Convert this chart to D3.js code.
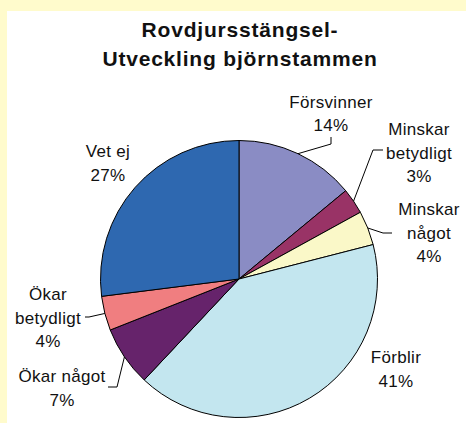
<!DOCTYPE html>
<html>
<head>
<meta charset="utf-8">
<script src="https://cdn.jsdelivr.net/npm/d3@7"></script>
<style>
  body { margin: 0; background: #FFFBCC; }
  svg { display: block; }
  text { font-family: "Liberation Sans", Arial, sans-serif; fill: #111; }
</style>
</head>
<body>
<div id="chart"></div>
<script>
// data, clockwise from 12 o'clock
const categories = ["Försvinner", "Minskar betydligt", "Minskar något", "Förblir", "Ökar något", "Ökar betydligt", "Vet ej"];
const values = [14, 3, 4, 41, 7, 4, 27];
const labelLines = [
  ["Försvinner", "14%"],
  ["Minskar", "betydligt", "3%"],
  ["Minskar", "något", "4%"],
  ["Förblir", "41%"],
  ["Ökar något", "7%"],
  ["Ökar", "betydligt", "4%"],
  ["Vet ej", "27%"]
];
const titleLines = ["Rovdjursstängsel-", "Utveckling björnstammen"];

const colors = ["#8A8CC4", "#993366", "#FAF8C8", "#C3E6EF", "#66236B", "#F07E80", "#2E68B0"];

const width = 466, height = 423;
const cx = 239, cy = 279, r = 138.5;

// label anchor (center x, first baseline) relative to pie center, and leader elbows
const labelPos = [
  { x: 92, y: -171.5, leader: [[92, -142], [92, -135]] },
  { x: 180, y: -144, leader: [[144, -129], [134, -129]] },
  { x: 190, y: -64, leader: [[153, -46], [144, -46]] },
  { x: 157, y: 84, leader: null },
  { x: -177, y: 103, leader: [[-131, 108], [-122, 108]] },
  { x: -191, y: 21, leader: [[-154, 38], [-150, 38]] },
  { x: -131, y: -122, leader: null }
];

const svg = d3.select("#chart").append("svg")
  .attr("width", width)
  .attr("height", height);

svg.append("rect")
  .attr("width", width).attr("height", height)
  .attr("fill", "#FFFBCC");

svg.append("rect")
  .attr("x", 7).attr("y", 11)
  .attr("width", width - 7).attr("height", height - 11)
  .attr("fill", "#ffffff");

svg.append("text")
  .attr("x", 240)
  .attr("text-anchor", "middle")
  .style("font-size", "21px")
  .style("font-weight", "bold")
  .style("letter-spacing", "0.8px")
  .selectAll("tspan")
  .data(titleLines)
  .enter().append("tspan")
  .attr("x", 240)
  .attr("y", (d, i) => 36.5 + i * 29.5)
  .text(d => d);

const pie = d3.pie().sort(null).value(d => d);
const arcs = pie(values);
const arc = d3.arc().innerRadius(0).outerRadius(r);

const g = svg.append("g").attr("transform", `translate(${cx},${cy})`);

g.selectAll("path.slice")
  .data(arcs)
  .enter().append("path")
  .attr("class", "slice")
  .attr("d", arc)
  .attr("fill", (d, i) => colors[i])
  .attr("stroke", "#000")
  .attr("stroke-width", 1);

// leader lines: from label side to the slice edge at its middle angle
g.selectAll("polyline.leader")
  .data(arcs.filter((d, i) => labelPos[i].leader))
  .enter().append("polyline")
  .attr("class", "leader")
  .attr("fill", "none")
  .attr("stroke", "#000")
  .attr("stroke-width", 1)
  .attr("points", d => {
    const a = (d.startAngle + d.endAngle) / 2;
    const p = labelPos[d.index].leader.concat([[r * Math.sin(a), -r * Math.cos(a)]]);
    return p.map(q => q.join(",")).join(" ");
  });

const labels = g.selectAll("text.label")
  .data(arcs)
  .enter().append("text")
  .attr("class", "label")
  .attr("text-anchor", "middle")
  .style("font-size", "17px")
  .style("letter-spacing", "0.3px");

labels.selectAll("tspan")
  .data(d => labelLines[d.index].map(t => ({ t, i: d.index })))
  .enter().append("tspan")
  .attr("x", d => labelPos[d.i].x)
  .attr("y", (d, j) => labelPos[d.i].y + j * 23.5)
  .text(d => d.t);
</script>
</body>
</html>
